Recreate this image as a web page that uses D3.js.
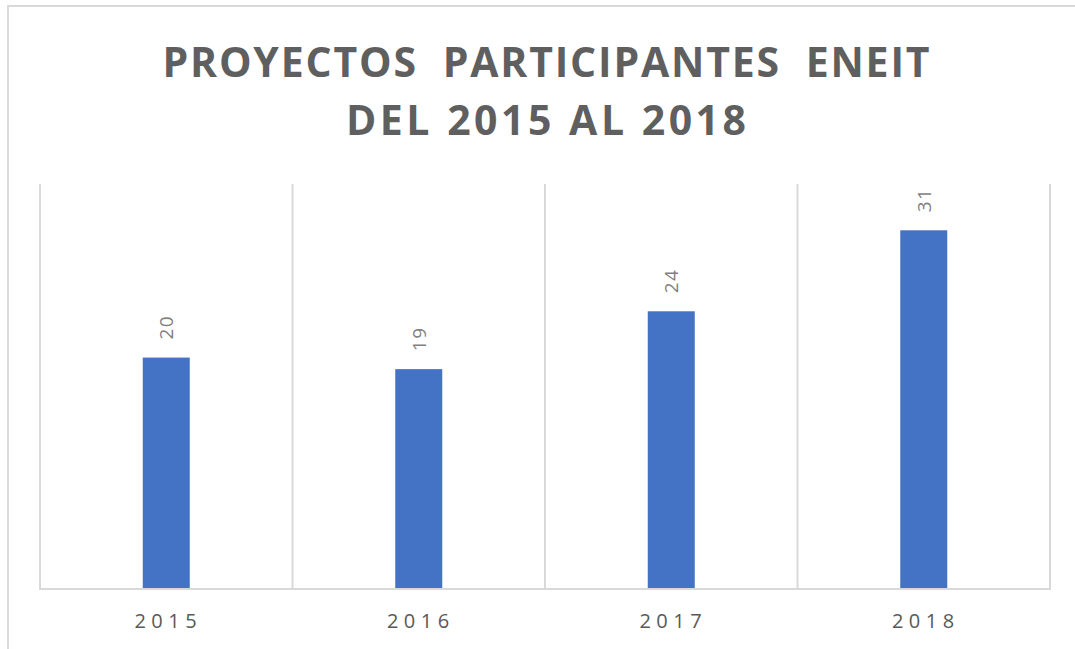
<!DOCTYPE html>
<html>
  <head>
    <title>Proyectos participantes ENEIT</title>
    <script src="https://d3js.org/d3.v7.min.js"></script>
    <style>
      body { margin: 0; background: #fff; }
    </style>
  </head>
  <body>
    <script>
      // Data
      const years = ["2015", "2016", "2017", "2018"];
      const values = [20, 19, 24, 31];
      const titleLines = ["PROYECTOS  PARTICIPANTES  ENEIT", "DEL 2015 AL 2018"];

      const width = 1075;
      const height = 649;
      const plot = { left: 40, right: 1050, top: 184, bottom: 589 };
      const textColor = "#595959";
      const gridColor = "#d9d9d9";

      const svg = d3.select("body")
        .append("svg")
        .attr("width", width)
        .attr("height", height);

      // outer frame (top and left edges visible)
      svg.append("line")
        .attr("x1", 7).attr("x2", width).attr("y1", 6).attr("y2", 6)
        .attr("stroke", gridColor).attr("stroke-width", 2);
      svg.append("line")
        .attr("x1", 8).attr("x2", 8).attr("y1", 6).attr("y2", height)
        .attr("stroke", gridColor).attr("stroke-width", 2);

      // Title
      const titleWidths = [767, 400];
      svg.selectAll("text.title")
        .data(titleLines)
        .enter()
        .append("text")
        .attr("class", "title")
        .attr("x", (d, i) => 546 - titleWidths[i] / 2)
        .attr("y", (d, i) => 77 + i * 58)
        .attr("textLength", (d, i) => titleWidths[i])
        .attr("lengthAdjust", "spacing")
        .attr("font-family", "'Open Sans', sans-serif")
        .attr("font-weight", "bold")
        .attr("font-size", 41)
        .attr("fill", "#5f5f5f")
        .style("white-space", "pre")
        .text(d => d);

      const x = d3.scaleBand()
        .domain(years)
        .range([plot.left, plot.right])
        .paddingInner(0)
        .paddingOuter(0);

      const y = d3.scaleLinear()
        .domain([0, 35])
        .range([plot.bottom, plot.top]);

      // vertical gridlines between categories
      const edges = years.map(d => x(d)).concat([x.range()[1]]);
      svg.selectAll("line.grid")
        .data(edges)
        .enter()
        .append("line")
        .attr("class", "grid")
        .attr("x1", d => d).attr("x2", d => d)
        .attr("y1", plot.top).attr("y2", plot.bottom)
        .attr("stroke", gridColor)
        .attr("stroke-width", 2);

      // bars
      const barW = 47;
      svg.selectAll("rect.bar")
        .data(values)
        .enter()
        .append("rect")
        .attr("class", "bar")
        .attr("x", (d, i) => x(years[i]) + x.bandwidth() / 2 - barW / 2)
        .attr("y", d => y(d))
        .attr("width", barW)
        .attr("height", d => y(0) - y(d))
        .attr("fill", "#4472C4");

      // baseline
      svg.append("line")
        .attr("x1", plot.left - 1).attr("x2", plot.right + 1)
        .attr("y1", plot.bottom).attr("y2", plot.bottom)
        .attr("stroke", gridColor)
        .attr("stroke-width", 2);

      // value labels, rotated
      svg.selectAll("text.value")
        .data(values)
        .enter()
        .append("text")
        .attr("class", "value")
        .attr("transform", (d, i) =>
          `translate(${x(years[i]) + x.bandwidth() / 2 + 7}, ${y(d) - 18}) rotate(-90)`)
        .attr("text-anchor", "start")
        .attr("font-family", "'Open Sans', sans-serif")
        .attr("font-size", 19)
        .attr("letter-spacing", 1.5)
        .attr("fill", "#7f7f7f")
        .text(d => d);

      // category labels
      svg.selectAll("text.cat")
        .data(years)
        .enter()
        .append("text")
        .attr("class", "cat")
        .attr("x", d => x(d) + x.bandwidth() / 2 + 2)
        .attr("y", 628)
        .attr("text-anchor", "middle")
        .attr("font-family", "'Open Sans', sans-serif")
        .attr("font-size", 20)
        .attr("letter-spacing", 5.5)
        .attr("fill", textColor)
        .text(d => d);
    </script>
  </body>
</html>
